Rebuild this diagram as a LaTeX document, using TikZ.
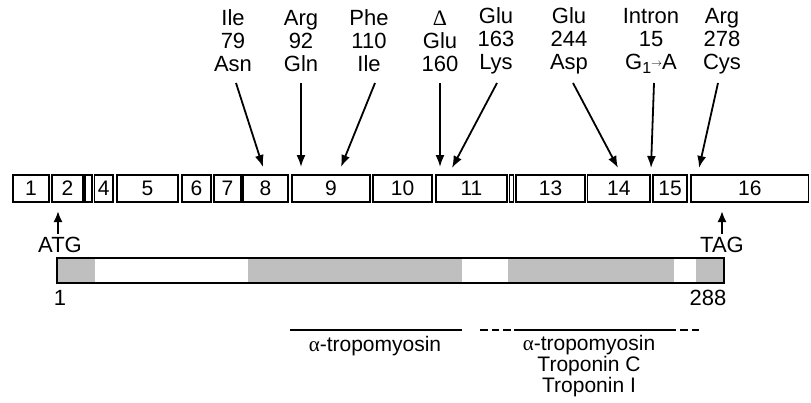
\documentclass[tikz,border=0pt]{standalone}
\usepackage{fontspec}
\setmainfont{Liberation Sans}
\newfontfamily\symfont{Liberation Serif}
\usetikzlibrary{arrows.meta}
\definecolor{bargray}{HTML}{BFBFBF}
\begin{document}
\begin{tikzpicture}[x=1pt,y=-1pt,
  exon/.style={draw=black,line width=1.1pt,fill=white,inner sep=0pt,minimum height=27pt,
     font=\fontsize{21}{22}\selectfont},
  lab/.style={align=center,inner sep=0pt,font=\fontsize{22}{23}\selectfont},
  mut/.style={line width=1.8pt,-{Latex[length=12pt,width=9pt]}},
  cod/.style={line width=2pt,-{Latex[length=11pt,width=9pt]}},
  small/.style={inner sep=0pt,font=\fontsize{21}{21}\selectfont,align=center},
  dom/.style={line width=2pt},
  domd/.style={line width=2pt,dash pattern=on 7.5pt off 4pt}]
\useasboundingbox (0,0) rectangle (811,402);
\newcommand\myexon[4]{\node[exon,minimum width={#3pt-#2pt}] (#1) at ({(#2+#3)/2},188.5) {#4};}
\myexon{e1}{13}{49}{1}
\myexon{e2}{52}{83}{2}
\myexon{e3}{85}{92}{}
\myexon{e4}{94.5}{113}{4}
\myexon{e5}{117}{178}{5}
\myexon{e6}{182}{211}{6}
\myexon{e7}{214}{241}{7}
\myexon{e8}{243}{288}{8}
\myexon{e9}{292}{370}{9}
\myexon{e10}{373}{432}{10}
\myexon{e11}{436}{507}{11}
\myexon{e12}{509.5}{513.5}{}
\myexon{e13}{516}{585}{13}
\myexon{e14}{587.5}{650}{14}
\myexon{e15}{653}{687}{15}
\myexon{e16}{691}{808.5}{16}
% mutation labels
\node[lab] (m1) at (233,41) {Ile\\79\\Asn};
\node[lab] (m2) at (301,41) {Arg\\92\\Gln};
\node[lab] (m3) at (369,41) {Phe\\110\\Ile};
\node[lab] (m4) at (440,41) {{\symfont Δ}\\Glu\\160};
\node[lab] (m5) at (496,41) {Glu\\163\\Lys};
\node[lab] (m6) at (569,41) {Glu\\244\\Asp};
\node[lab] (m7) at (651,41) {Intron\\15\\G\raisebox{-0.35ex}{\fontsize{16}{16}\selectfont 1}\raisebox{0.3ex}{\fontsize{11}{11}\selectfont$\rightarrow$}A};
\node[lab] (m8) at (722,41) {Arg\\278\\Cys};
\coordinate (s1) at (236,83); \coordinate (t1) at (263,167);
\coordinate (s2) at (301,83); \coordinate (t2) at (301,167);
\coordinate (s3) at (375,83); \coordinate (t3) at (341,167);
\coordinate (s4) at (440,83); \coordinate (t4) at (440,167);
\coordinate (s5) at (497,83); \coordinate (t5) at (452,168);
\coordinate (s6) at (573,83); \coordinate (t6) at (618,168);
\coordinate (s7) at (654,83); \coordinate (t7) at (651,168);
\coordinate (s8) at (718,83); \coordinate (t8) at (699,168);
\foreach \i in {1,...,8} {\draw[mut] (s\i) -- (t\i);}
% ATG / TAG
\node[lab] (atg) at (60,245) {ATG};
\node[lab] (tag) at (722,245) {TAG};
\coordinate (ua) at (58,211);
\coordinate (ut) at (722,211);
\draw[cod] (58,234) -- (ua);
\draw[cod] (722,234) -- (ut);
% protein bar
\fill[bargray] (57,258) rectangle (95,283);
\fill[bargray] (248,258) rectangle (462,283);
\fill[bargray] (508,258) rectangle (674,283);
\fill[bargray] (696,258) rectangle (724,283);
\node[draw=black,line width=1.6pt,inner sep=0pt,minimum width=667pt,minimum height=25pt] (bar) at (390.5,270.5) {};
\node[lab] (n1) at (60,298) {1};
\node[lab] (n288) at (708,298) {288};
% binding domains
\coordinate (d1a) at (290,330); \coordinate (d1b) at (462,330);
\coordinate (d2a) at (480,330); \coordinate (d2b) at (514,330);
\coordinate (d2c) at (676,330); \coordinate (d2d) at (701,330);
\draw[dom] (d1a) -- (d1b);
\draw[domd] (d2a) -- (d2b);
\draw[dom] (d2b) -- (d2c);
\draw[domd] ([xshift=4pt]d2c) -- (d2d);
\node[small] (b1) at (375,346) {{\symfont α}-tropomyosin};
\node[small] (b2) at (589,366) {{\symfont α}-tropomyosin\\Troponin C\\Troponin I};
\end{tikzpicture}
\end{document}
